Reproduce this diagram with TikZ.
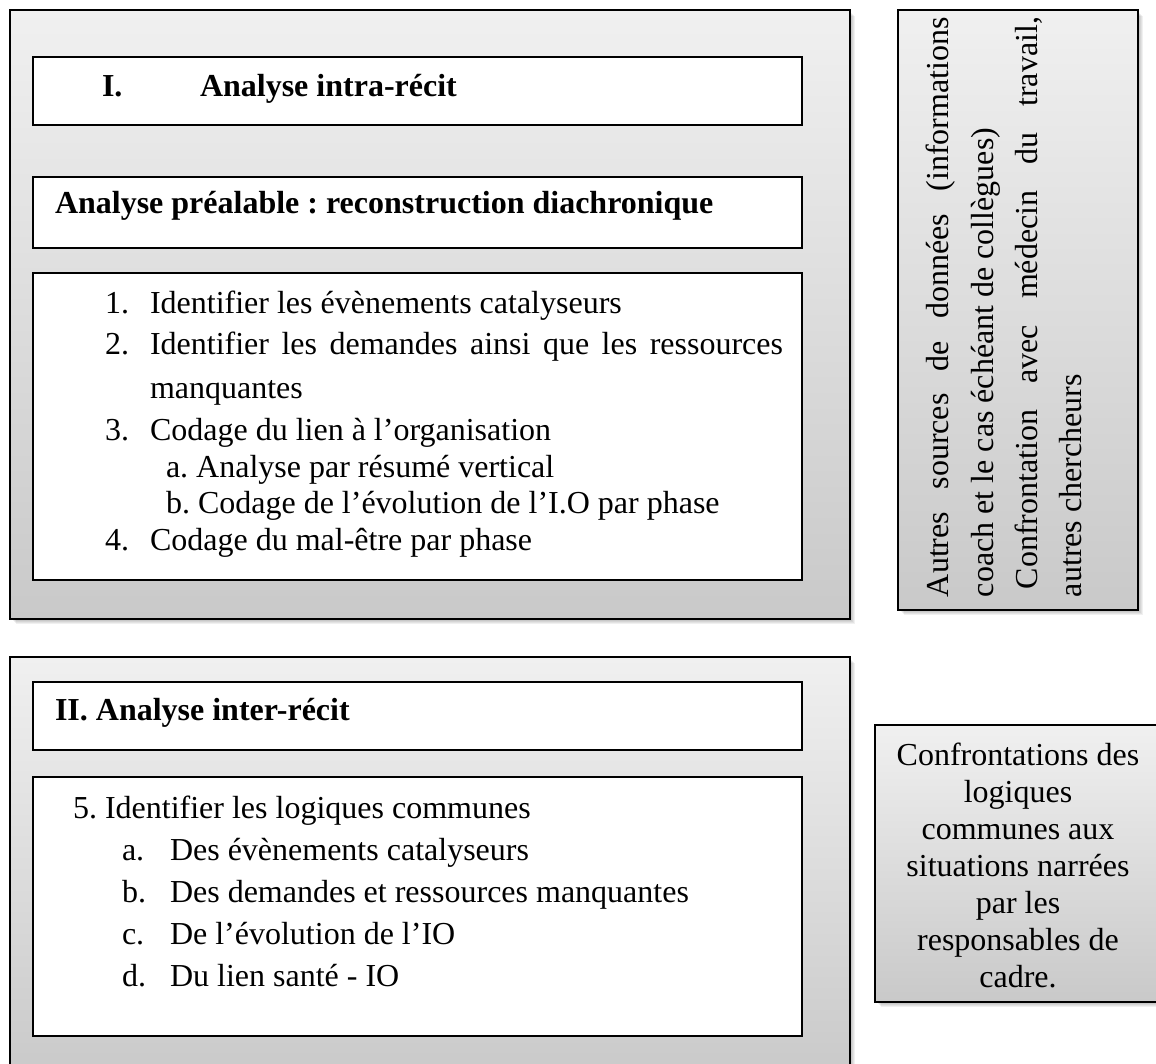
\documentclass[tikz,border=0pt]{standalone}
\usepackage{fontspec}
\setmainfont{Liberation Serif}
\frenchspacing
\definecolor{gTop}{HTML}{F0F0F0}
\definecolor{gBot}{HTML}{C9C9C9}
\newcommand\softshadow[4]{%
  \foreach \d in {1,2,3,4,5}{\fill[black,opacity=0.06] (#1+\d+1,#2+\d+1) rectangle (#3+\d,#4+\d);}}
\tikzset{
  outerbox/.style={draw=black, line width=1.6pt, top color=gTop, bottom color=gBot},
  innerbox/.style={draw=black, line width=1.2pt, fill=white},
  txt/.style={anchor=base west, inner sep=0pt, outer sep=0pt},
  ctxt/.style={anchor=base, inner sep=0pt, outer sep=0pt},
  vtxt/.style={anchor=base west, inner sep=0pt, outer sep=0pt, rotate=90},
}
\begin{document}
\frenchspacing
\begin{tikzpicture}[x=1pt,y=-1pt, font=\fontsize{32}{37}\selectfont\frenchspacing]
\useasboundingbox (0,0) rectangle (1156,1064);
% shadows
\softshadow{10}{10}{850}{619}
\softshadow{898}{10}{1138}{610}
\softshadow{10}{657}{850}{1080}
\softshadow{875}{725}{1162}{1002}
% outer boxes
\path[outerbox] (10,10) rectangle (850,619);
\path[outerbox] (898,10) rectangle (1138,610);
\path[outerbox] (10,657) rectangle (850,1080);
\path[outerbox] (875,725) rectangle (1162,1002);
% inner boxes
\path[innerbox] (33,57) rectangle (802,125);
\path[innerbox] (33,177) rectangle (802,248);
\path[innerbox] (33,273) rectangle (802,580);
\path[innerbox] (33,682) rectangle (802,750);
\path[innerbox] (33,777) rectangle (802,1036);
% section I
\node[txt] (t1n) at (102,97) {\bfseries I.};
\node[txt] (t1) at (200,97) {\bfseries Analyse intra-récit};
\node[txt] (t2) at (55,214) {\bfseries Analyse préalable : reconstruction diachronique};
\node[txt] (n1) at (105,314) {1.};
\node[txt] (l1) at (150,314) {Identifier les évènements catalyseurs};
\node[txt] (n2) at (105,355) {2.};
\node[txt] (l2) at (150,355) {\makebox[633pt][s]{Identifier les demandes ainsi que les ressources}};
\node[txt] (l2b) at (150,398) {manquantes};
\node[txt] (n3) at (105,440) {3.};
\node[txt] (l3) at (150,440) {Codage du lien à l’organisation};
\node[txt] (l3a) at (166,477) {a. Analyse par résumé vertical};
\node[txt] (l3b) at (166,513) {b. Codage de l’évolution de l’I.O par phase};
\node[txt] (n4) at (105,550) {4.};
\node[txt] (l4) at (150,550) {Codage du mal-être par phase};
% right vertical box
\node[vtxt] (v1) at (948,597) {\makebox[580pt][s]{Autres sources de données (informations}};
\node[vtxt] (v2) at (993,597) {coach et le cas échéant de collègues)};
\node[vtxt] (v3) at (1037,589) {\makebox[572pt][s]{Confrontation avec médecin du travail,}};
\node[vtxt] (v4) at (1081,597) {autres chercheurs};
% section II
\node[txt] (t3) at (55,720) {\bfseries II. Analyse inter-récit};
\node[txt] (l5) at (73,818) {5. Identifier les logiques communes};
\node[txt] (n5a) at (122,860) {a.};
\node[txt] (l5a) at (170,860) {Des évènements catalyseurs};
\node[txt] (n5b) at (122,902) {b.};
\node[txt] (l5b) at (170,902) {Des demandes et ressources manquantes};
\node[txt] (n5c) at (122,944) {c.};
\node[txt] (l5c) at (170,944) {De l’évolution de l’IO};
\node[txt] (n5d) at (122,986) {d.};
\node[txt] (l5d) at (170,986) {Du lien santé - IO};
% confrontations box
\node[ctxt] (c1) at (1018,765) {Confrontations des};
\node[ctxt] (c2) at (1018,802) {logiques};
\node[ctxt] (c3) at (1018,839) {communes aux};
\node[ctxt] (c4) at (1018,876) {situations narrées};
\node[ctxt] (c5) at (1018,913) {par les};
\node[ctxt] (c6) at (1018,950) {responsables de};
\node[ctxt] (c7) at (1018,987) {cadre.};
\end{tikzpicture}
\end{document}
